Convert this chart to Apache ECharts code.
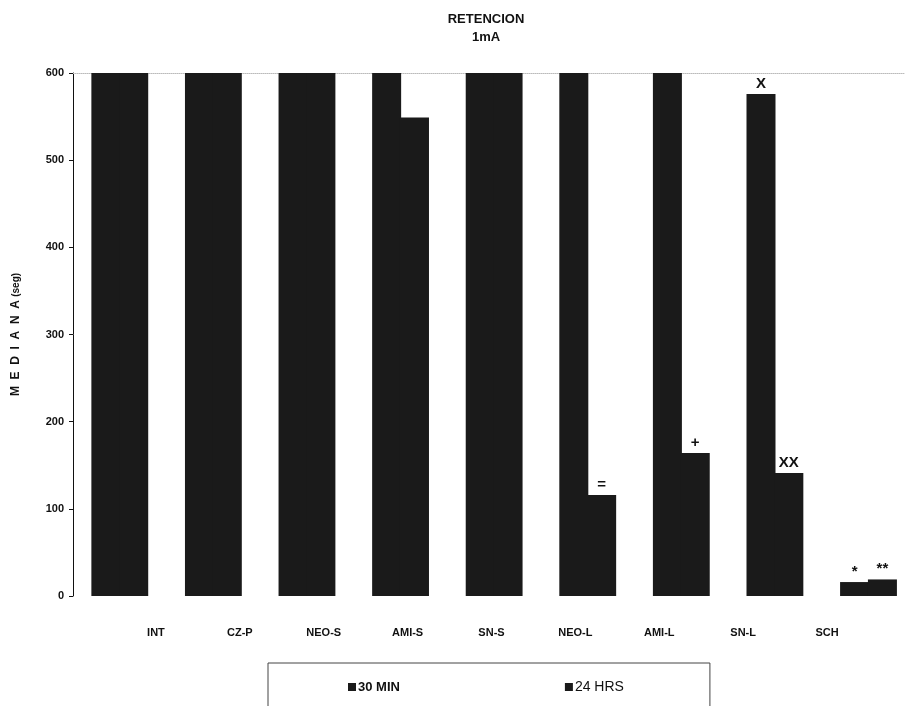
<!DOCTYPE html>
<html>
<head>
<meta charset="utf-8">
<title>RETENCION 1mA</title>
<script src="https://cdn.jsdelivr.net/npm/echarts@6/dist/echarts.min.js"></script>
<style>
  html, body { margin: 0; padding: 0; background: #fff; }
  #main { width: 905px; height: 706px; }
</style>
</head>
<body>
<div id="main"></div>
<script>
// grupos del experimento
var categories = ['INT', 'CZ-P', 'NEO-S', 'AMI-S', 'SN-S', 'NEO-L', 'AMI-L', 'SN-L', 'SCH'];
// mediana (seg)
var min30 = [600, 600, 600, 600, 600, 600, 600, 576, 16];
var hrs24 = [600, 600, 600, 549, 600, 116, 164, 141, 19];
// marcas de significancia sobre cada barra
var marks30 = ['', '', '', '', '', '', '', 'X', '*'];
var marks24 = ['', '', '', '', '', '=', '+', 'XX', '**'];
var yTicks = [0, 100, 200, 300, 400, 500, 600];

var FONT = '"Liberation Sans", Arial, sans-serif';
var BAR = '#1a1a1a';

// el grafico original esta recortado a la derecha: el eje x sigue mas alla del borde
function withMarks(vals, marks) {
  return vals.map(function (v, i) {
    return { value: [i, v], mark: marks[i] };
  });
}

var myChart = echarts.init(document.getElementById('main'));

myChart.setOption({
  backgroundColor: '#fff',
  animation: false,
  title: {
    text: 'RETENCION',
    subtext: '1mA',
    left: 481,
    top: 8,
    textAlign: 'center',
    itemGap: 5,
    textStyle: { fontFamily: FONT, fontSize: 13, fontWeight: 'bold', color: '#111' },
    subtextStyle: { fontFamily: FONT, fontSize: 13, fontWeight: 'bold', color: '#111' }
  },
  legend: {
    left: 268,
    top: 663,
    padding: [17, 86, 40, 80],
    itemGap: 165,
    itemWidth: 8,
    itemHeight: 8,
    icon: 'rect',
    borderColor: '#444',
    borderWidth: 1,
    data: ['30 MIN', '24 HRS'],
    formatter: function (name) {
      return name === '30 MIN' ? '{b|' + name + '}' : name;
    },
    textStyle: {
      fontFamily: FONT, fontSize: 14, color: '#111', padding: [0, 0, 0, -3],
      rich: { b: { fontFamily: FONT, fontSize: 13, fontWeight: 'bold', color: '#111' } }
    }
  },
  grid: [
    { left: 73, right: 0, top: 73, bottom: 110 },
    { left: 114, right: 36, top: 73, bottom: 110 }
  ],
  xAxis: [
    {
      type: 'value', gridIndex: 0, min: -0.5, max: 8.39,
      axisLine: { show: false }, axisTick: { show: false }, axisLabel: { show: false },
      splitLine: { show: false }
    },
    {
      type: 'category', gridIndex: 0, position: 'top', data: categories,
      axisLine: { show: true, lineStyle: { color: '#bbb', type: 'dotted', width: 1 } },
      axisTick: { show: false }, axisLabel: { show: false }
    },
    {
      type: 'category', gridIndex: 1, data: categories,
      axisLine: { show: false }, axisTick: { show: false },
      axisLabel: { margin: 31, fontFamily: FONT, fontSize: 11, fontWeight: 'bold', color: '#111' }
    }
  ],
  yAxis: [
    {
      type: 'value', gridIndex: 0, min: yTicks[0], max: yTicks[yTicks.length - 1], interval: 100,
      name: '{a|M  E  D  I  A  N  A} {b|(seg)}',
      nameLocation: 'middle',
      nameGap: 51,
      nameTextStyle: {
        fontFamily: FONT, fontSize: 12, fontWeight: 'bold', color: '#111',
        rich: {
          a: { fontFamily: FONT, fontSize: 12, fontWeight: 'bold', color: '#111' },
          b: { fontFamily: FONT, fontSize: 10, fontWeight: 'bold', color: '#111' }
        }
      },
      axisLine: { show: true, onZero: false, lineStyle: { color: '#111', width: 1 } },
      axisTick: { show: true, length: 4, lineStyle: { color: '#111' } },
      axisLabel: { margin: 9, fontFamily: FONT, fontSize: 11, fontWeight: 'bold', color: '#111' },
      splitLine: { show: false }
    },
    {
      type: 'value', gridIndex: 1, min: 0, max: 600, show: false
    }
  ],
  series: [
    {
      name: '30 MIN', type: 'bar', xAxisIndex: 0, yAxisIndex: 0,
      barWidth: 29, barGap: '-4%',
      itemStyle: { color: BAR },
      data: withMarks(min30, marks30),
      label: {
        show: true, position: 'top', distance: 3,
        fontFamily: FONT, fontSize: 15, fontWeight: 'bold', color: '#111',
        formatter: function (p) { return p.data.mark; }
      }
    },
    {
      name: '24 HRS', type: 'bar', xAxisIndex: 0, yAxisIndex: 0,
      barWidth: 29, barGap: '-4%',
      itemStyle: { color: BAR },
      data: withMarks(hrs24, marks24),
      label: {
        show: true, position: 'top', distance: 3,
        fontFamily: FONT, fontSize: 15, fontWeight: 'bold', color: '#111',
        formatter: function (p) { return p.data.mark; }
      }
    }
  ]
});
</script>
</body>
</html>
